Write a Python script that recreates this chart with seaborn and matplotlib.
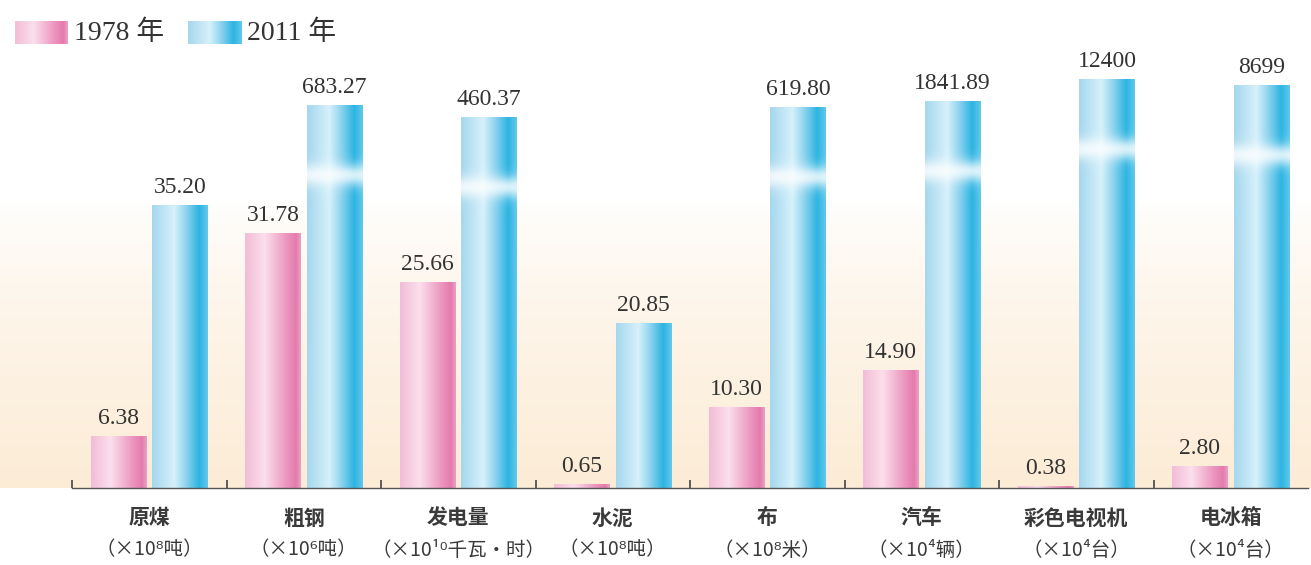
import matplotlib
matplotlib.use("Agg")
import matplotlib.pyplot as plt
from matplotlib.colors import to_rgb
import seaborn as sns
import numpy as np
import pandas as pd

# data (bar heights are the drawn heights, labels are the printed values)
categories = ["原煤", "粗钢", "发电量", "水泥", "布", "汽车", "彩色电视机", "电冰箱"]
units = ["（×10⁸吨）", "（×10⁶吨）", "（×10¹⁰千瓦·时）", "（×10⁸吨）",
         "（×10⁸米）", "（×10⁴辆）", "（×10⁴台）", "（×10⁴台）"]
years = ["1978 年", "2011 年"]
heights_1978 = [52, 255, 206, 4, 81, 118, 2, 22]
heights_2011 = [283, 383, 371, 165, 381, 387, 409, 403]
labels_1978 = ["6.38", "31.78", "25.66", "0.65", "10.30", "14.90", "0.38", "2.80"]
labels_2011 = ["35.20", "683.27", "460.37", "20.85", "619.80", "1841.89", "12400", "8699"]

pink_stops = [(0.0, "#f2bdd6"), (0.35, "#fbdfec"), (0.75, "#ec95bf"), (0.92, "#e47bad"), (1.0, "#eb9fc3")]
blue_stops = [(0.0, "#a6d7ee"), (0.4, "#d6f1fb"), (0.6, "#93d5ef"), (0.85, "#2cb4e2"), (1.0, "#62c8eb")]


def ramp(stops, n=64):
    t = np.linspace(0, 1, n)
    pos = [s[0] for s in stops]
    cols = np.array([to_rgb(s[1]) for s in stops])
    return np.stack([np.interp(t, pos, cols[:, k]) for k in range(3)], axis=1)


df = pd.DataFrame({
    "category": categories * 2,
    "year": [years[0]] * len(categories) + [years[1]] * len(categories),
    "height": heights_1978 + heights_2011,
})

sns.set_theme(style="white")
plt.rcParams["font.family"] = ["Noto Sans CJK SC", "DejaVu Sans"]

fig = plt.figure(figsize=(13.11, 5.65), dpi=100)
ax_pos = [72 / 1311, 77 / 565, 1236 / 1311, 448 / 565]

# soft peach background behind the bars
bg = fig.add_axes([0, ax_pos[1], 1, ax_pos[3]], zorder=0)
yy = np.linspace(0, 1, 200)
w = np.clip((0.64 - yy) / 0.64, 0, 1) ** 0.7
top_c = np.array(to_rgb("#ffffff"))
bot_c = np.array(to_rgb("#fcecd6"))
grad = top_c[None, :] * (1 - w[:, None]) + bot_c[None, :] * w[:, None]
bg.imshow(grad[:, None, :], aspect="auto", extent=[0, 1, 0, 1], origin="lower")
bg.axis("off")

ax = fig.add_axes(ax_pos, zorder=1)
ax.patch.set_alpha(0)
sns.barplot(data=df, x="category", y="height", hue="year",
            palette=["#ec95bf", "#2cb4e2"], width=0.8, gap=0.1,
            errorbar=None, legend=False, ax=ax)

# gradient fill for each bar
pink_img = ramp(pink_stops)
blue_img = ramp(blue_stops)
for cont, img, is_blue in zip(ax.containers, [pink_img, blue_img], [False, True]):
    for bar in cont:
        x0, w0, h0 = bar.get_x(), bar.get_width(), bar.get_height()
        bar.set_facecolor("none")
        bar.set_edgecolor("none")
        rows = max(int(h0), 2)
        tile = np.repeat(img[None, :, :], rows, axis=0)
        if is_blue and h0 > 350:
            yv = np.arange(rows)[::-1] + 0.5  # height from bottom, top row first
            band = 0.8 * np.exp(-((yv - (h0 - 70)) / 11.0) ** 2)
            tile = tile * (1 - band[:, None, None]) + band[:, None, None]
        ax.imshow(tile, aspect="auto", extent=[x0, x0 + w0, 0, h0],
                  zorder=2, interpolation="bilinear")

ax.set_xlim(-0.5, 7.5)
ax.set_ylim(0, 448)

for cont, labs in zip(ax.containers, [labels_1978, labels_2011]):
    ax.bar_label(cont, labels=labs, padding=5, fontsize=17, color="#333333",
                 family=["Liberation Serif", "DejaVu Serif"])

for s in ["top", "right", "left"]:
    ax.spines[s].set_visible(False)
ax.spines["bottom"].set_color("#555555")
ax.spines["bottom"].set_linewidth(1.0)
ax.set_yticks([])
ax.set_xlabel("")
ax.set_ylabel("")
ax.set_xticks(range(len(categories)))
ax.set_xticklabels(categories, fontsize=15, color="#3a3a3a", fontweight="bold")
ax.tick_params(axis="x", which="major", length=0, pad=14)
ax.set_xticks(np.arange(-0.5, 7, 1), minor=True)
ax.tick_params(axis="x", which="minor", bottom=True, direction="in", length=6,
               width=1.2, color="#444444")

for i, u in enumerate(units):
    ax.text(i, -62, u, ha="center", va="center", fontsize=14, color="#3a3a3a",
            family=["Noto Sans CJK SC", "DejaVu Sans"], clip_on=False)

# legend with gradient swatches
for k, (img, lab) in enumerate(zip([pink_img, blue_img], years)):
    x_px = 15 + k * 173
    sw = fig.add_axes([x_px / 1311, (565 - 44) / 565, 53 / 1311, 23 / 565], zorder=3)
    sw.imshow(img[None, :, :], aspect="auto", interpolation="bilinear")
    sw.axis("off")
    fig.text((x_px + 59) / 1311, (565 - 33) / 565, lab, fontsize=20, color="#333333",
             va="center", ha="left", family=["Liberation Serif", "Noto Sans CJK SC"])

fig.savefig("out.png", dpi=100)
